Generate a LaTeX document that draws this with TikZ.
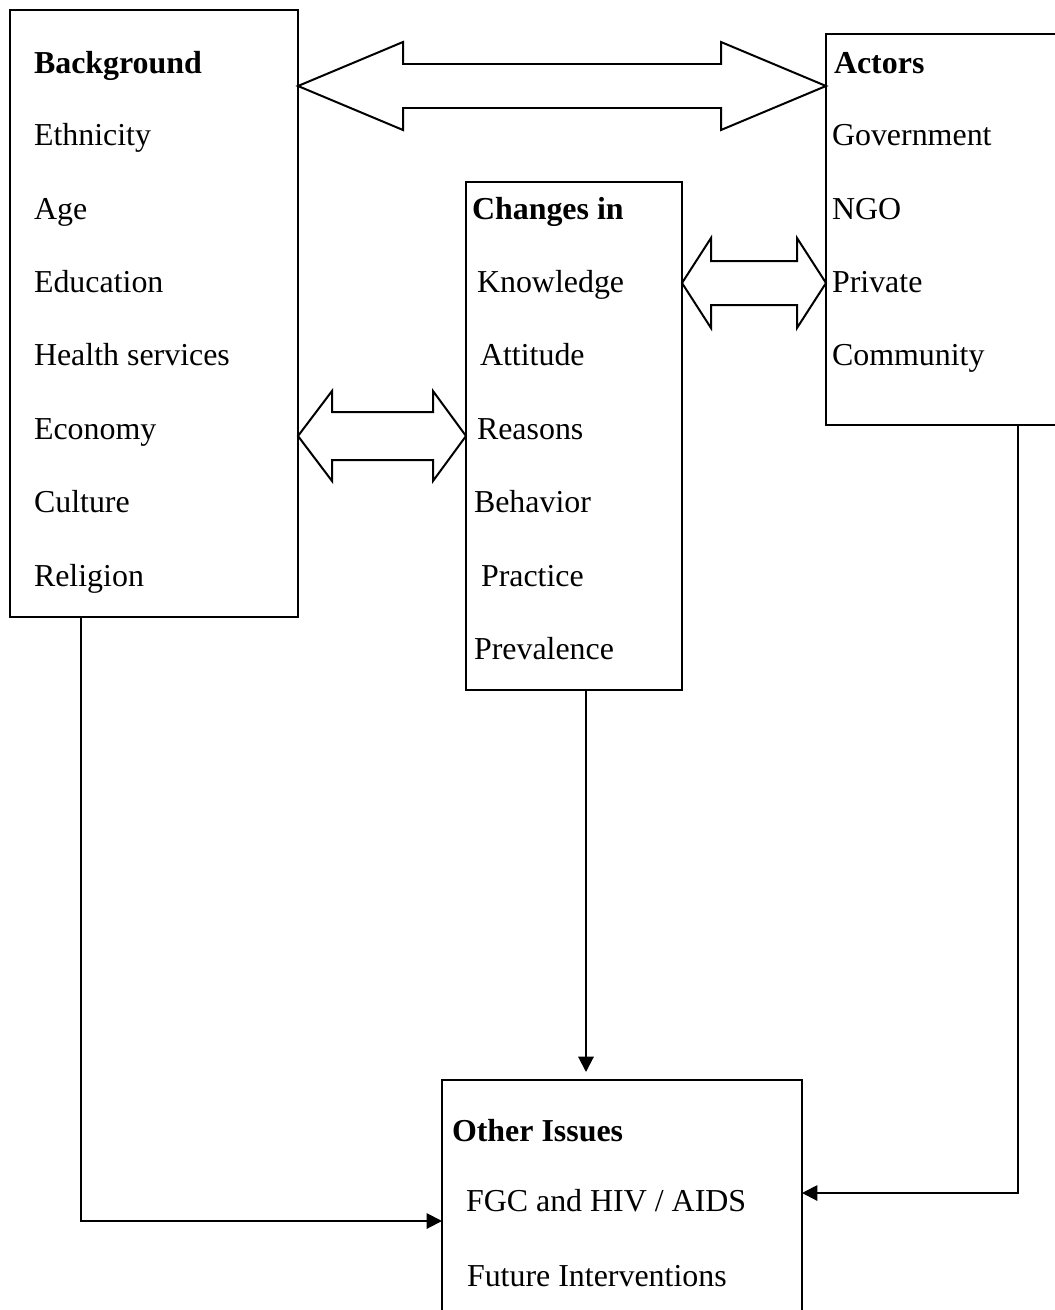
\documentclass[tikz,border=0pt]{standalone}
\usepackage{fontspec}
\setmainfont{Liberation Serif}
\usetikzlibrary{arrows.meta,calc}
\def\pxu{0.3759pt}
\begin{document}
\begin{tikzpicture}[x=0.3759pt,y=-0.3759pt,
  box/.style={draw,line width=0.75pt,anchor=north west,inner sep=0,outer sep=0},
  item/.style={anchor=base west,inner sep=0,outer sep=0,font=\fontsize{12}{14}\selectfont},
  title/.style={item,font=\fontsize{12}{14}\selectfont\bfseries},
  link/.style={line width=0.75pt,-{Triangle[length=5.8pt,width=5.8pt]}},
  twohead/.style={draw,line width=0.75pt,line join=miter}]
\useasboundingbox (0,0) rectangle (1055,1310);
\begin{scope}
\clip (0,0) rectangle (1055,1310);
% frames
\node[box,minimum width=288*\pxu,minimum height=607*\pxu] (bg) at (10,10) {};
\node[box,minimum width=240*\pxu,minimum height=391*\pxu] (act) at (826,34) {};
\node[box,minimum width=216*\pxu,minimum height=508*\pxu] (chg) at (466,182) {};
\node[box,minimum width=360*\pxu,minimum height=245*\pxu] (oth) at (442,1080) {};
\end{scope}

% Background column
\node[title] (bgT) at (34,73.5) {Background};
\node[item] (bg1) at (34,145.5) {Ethnicity};
\node[item] (bg2) at (34,219) {Age};
\node[item] (bg3) at (34,292) {Education};
\node[item] (bg4) at (34,365.5) {Health services};
\node[item] (bg5) at (34,439) {Economy};
\node[item] (bg6) at (34,512) {Culture};
\node[item] (bg7) at (34,586) {Religion};

% Actors column
\node[title] (actT) at (834,73.5) {Actors};
\node[item] (act1) at (832,145.5) {Government};
\node[item] (act2) at (832,219) {NGO};
\node[item] (act3) at (832,292) {Private};
\node[item] (act4) at (832,365.5) {Community};

% Changes column
\node[title] (chgT) at (472,219) {Changes in};
\node[item] (chg1) at (477,292) {Knowledge};
\node[item] (chg2) at (480,365.5) {Attitude};
\node[item] (chg3) at (477,439) {Reasons};
\node[item] (chg4) at (474,512) {Behavior};
\node[item] (chg5) at (481,586) {Practice};
\node[item] (chg6) at (474,659) {Prevalence};

% Other issues
\node[title] (othT) at (452,1141) {Other Issues};
\node[item] (oth1) at (466,1211) {FGC and HIV / AIDS};
\node[item] (oth2) at (467,1286) {Future Interventions};

% hollow two-headed arrows between the frames
\coordinate (a1) at (bg.east |- 0,86);
\coordinate (a2) at (act.west |- 0,86);
\draw[twohead] (a1) -- ($(a1)+(105,-44)$) -- ($(a1)+(105,-22)$) -- ($(a2)+(-105,-22)$)
  -- ($(a2)+(-105,-44)$) -- (a2) -- ($(a2)+(-105,44)$) -- ($(a2)+(-105,22)$)
  -- ($(a1)+(105,22)$) -- ($(a1)+(105,44)$) -- cycle;

\coordinate (b1) at (bg.east |- 0,436);
\coordinate (b2) at (chg.west |- 0,436);
\draw[twohead] (b1) -- ($(b1)+(34,-45)$) -- ($(b1)+(34,-24)$) -- ($(b2)+(-33,-24)$)
  -- ($(b2)+(-33,-45)$) -- (b2) -- ($(b2)+(-33,45)$) -- ($(b2)+(-33,24)$)
  -- ($(b1)+(34,24)$) -- ($(b1)+(34,45)$) -- cycle;

\coordinate (c1) at (chg.east |- 0,283);
\coordinate (c2) at (act.west |- 0,283);
\draw[twohead] (c1) -- ($(c1)+(29,-45)$) -- ($(c1)+(29,-22)$) -- ($(c2)+(-29,-22)$)
  -- ($(c2)+(-29,-45)$) -- (c2) -- ($(c2)+(-29,45)$) -- ($(c2)+(-29,22)$)
  -- ($(c1)+(29,22)$) -- ($(c1)+(29,45)$) -- cycle;

% connectors into Other Issues
\coordinate (bgout) at (bg.south -| 81,0);
\coordinate (bgturn) at (81,1221);
\draw[link] (bgout) -- (bgturn) -- (bgturn -| oth.west);

\coordinate (chgout) at (chg.south -| 586,0);
\draw[link] (chgout) -- ($(chgout |- oth.north)+(0,-8)$);

\coordinate (actout) at (act.south -| 1018,0);
\coordinate (actturn) at (1018,1193);
\draw[link] (actout) -- (actturn) -- (actturn -| oth.east);
\end{tikzpicture}
\end{document}
